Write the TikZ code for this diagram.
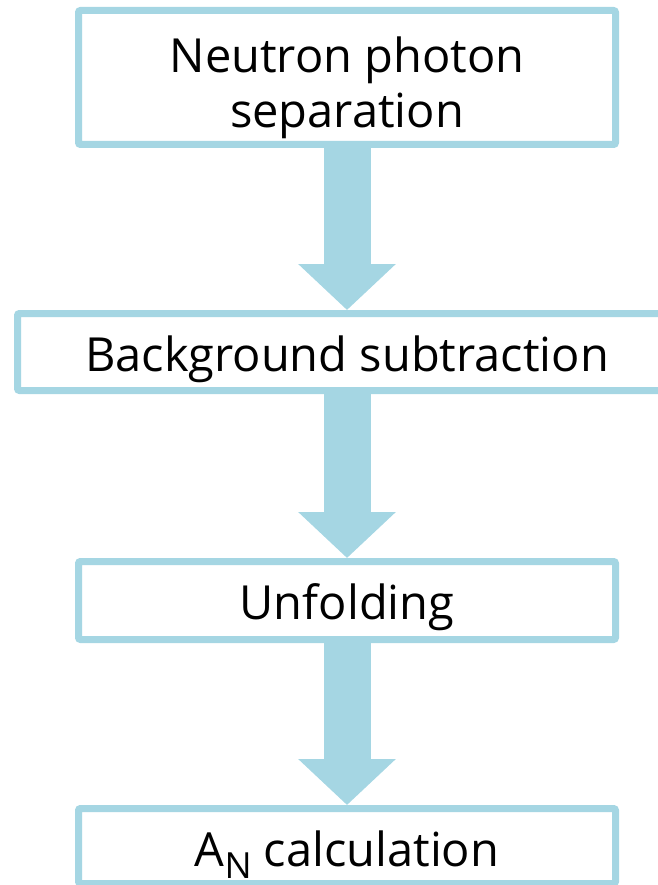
\documentclass[tikz,border=0pt]{standalone}
\usepackage{fontspec}
\setmainfont{Open Sans}
\usetikzlibrary{positioning,arrows.meta}

\definecolor{boxblue}{RGB}{165,214,227}
\newcommand{\lowidx}[1]{\raisebox{-12pt}{\fontsize{36}{36}\selectfont #1}}

\tikzset{
  stage/.style={draw=boxblue, line width=7pt, rounded corners=2pt, fill=white,
    minimum width=537pt, minimum height=78pt, align=center,
    font=\fontsize{47}{55}\selectfont, inner sep=0pt},
  oneline/.style={stage, text height=50pt, text depth=12pt},
  flow/.style={boxblue, line width=47pt,
    -{Triangle[width=95pt,length=46pt]}}
}

\begin{document}
\begin{tikzpicture}[x=1pt,y=1pt]
\useasboundingbox (0,0) rectangle (657,-885);

\node[stage, minimum height=134pt] (sep) at (347,-77.5) {\rule{0pt}{56pt}Neutron photon\\separation};
\node[oneline, minimum width=659pt, minimum height=77pt, below=162pt of sep] (bkg) {Background subtraction};
\node[oneline, below=164pt of bkg] (unf) {Unfolding};
\node[oneline, minimum height=75pt, text height=52pt, text depth=12pt, below=162pt of unf] (asym) {A\lowidx{N} calculation};

\draw[flow] (sep) -- (bkg);
\draw[flow] (bkg) -- (unf);
\draw[flow] (unf) -- (asym);
\end{tikzpicture}
\end{document}
